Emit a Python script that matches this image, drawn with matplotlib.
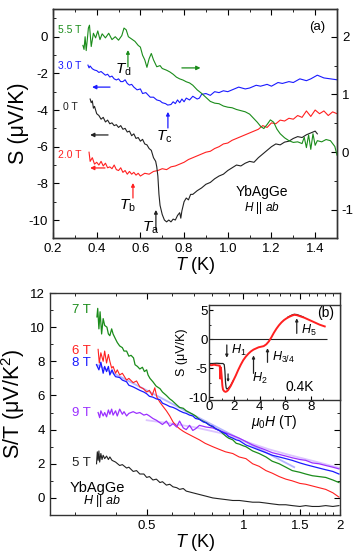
import matplotlib
matplotlib.use('Agg')
import matplotlib.pyplot as plt
from matplotlib.ticker import MultipleLocator, FixedLocator, NullFormatter

plt.rcParams['font.family'] = ['Liberation Sans', 'DejaVu Sans']
plt.rcParams['mathtext.fontset'] = 'custom'
plt.rcParams['mathtext.rm'] = 'Liberation Sans'
plt.rcParams['mathtext.it'] = 'Liberation Sans:italic'
plt.rcParams['axes.linewidth'] = 1.0
plt.rcParams['axes.edgecolor'] = '#333333'
plt.rcParams['axes.unicode_minus'] = False

GREEN = '#1a8c1a'
BLUE = '#1a1aff'
RED = '#ff2020'
BLACK = '#222222'
PURPLE = '#9b30ff'

# ---- panel (a): S vs T ----
t_55 = [0.337, 0.342, 0.347, 0.352, 0.357, 0.362, 0.367, 0.375, 0.385, 0.395, 0.405, 0.415,
        0.425, 0.44, 0.455, 0.47, 0.485, 0.50, 0.515, 0.525, 0.535, 0.545, 0.56, 0.575, 0.59,
        0.60, 0.61, 0.62, 0.63, 0.64, 0.65, 0.66, 0.675, 0.69, 0.70, 0.72, 0.735, 0.75, 0.765,
        0.78, 0.795, 0.81, 0.825, 0.84, 0.86, 0.88, 0.90, 0.92, 0.94, 0.96, 0.98, 1.00, 1.02,
        1.04, 1.06, 1.08, 1.10, 1.12, 1.135, 1.15, 1.165, 1.18, 1.195, 1.21, 1.225, 1.24, 1.26,
        1.28, 1.30, 1.32, 1.34, 1.35, 1.36, 1.37, 1.38, 1.39, 1.40, 1.41, 1.43, 1.45, 1.47,
        1.49, 1.50]
s_55 = [1.85, 1.78, 2.0, 1.76, 1.95, 2.15, 2.2, 1.83, 2.06, 1.98, 2.1, 1.95,
        2.05, 1.98, 2.06, 1.95, 2.0, 1.94, 2.02, 2.15, 2.12, 2.0, 1.96, 1.92, 1.85,
        1.82, 1.68, 1.6, 1.47, 1.62, 1.71, 1.6, 1.48, 1.5, 1.45, 1.42, 1.39, 1.35, 1.3,
        1.27, 1.25, 1.22, 1.2, 1.16, 1.08, 1.02, 0.95, 0.88, 0.85, 0.84, 0.80, 0.78, 0.77,
        0.74, 0.72, 0.70, 0.66, 0.58, 0.52, 0.45, 0.41, 0.48, 0.56, 0.52, 0.4, 0.32, 0.25,
        0.2, 0.17, 0.18, 0.15, 0.26, 0.08, 0.3, 0.05, 0.32, 0.12, 0.2, 0.18, 0.22, 0.2,
        0.1, -0.05]

t_30 = [0.36, 0.365, 0.37, 0.38, 0.39, 0.40, 0.41, 0.42, 0.43, 0.44, 0.45, 0.46, 0.47, 0.48,
        0.49, 0.50, 0.51, 0.52, 0.53, 0.54, 0.55, 0.56, 0.57, 0.585, 0.60, 0.61, 0.625, 0.645,
        0.66, 0.675, 0.69, 0.70, 0.715, 0.725, 0.74, 0.75, 0.76, 0.77, 0.78, 0.79, 0.80, 0.81,
        0.825, 0.84, 0.86, 0.87, 0.88, 0.90, 0.92, 0.94, 0.96, 0.98, 1.00, 1.02, 1.05, 1.08,
        1.10, 1.13, 1.15, 1.18, 1.20, 1.23, 1.25, 1.28, 1.30, 1.33, 1.36, 1.38, 1.41, 1.44,
        1.47, 1.50]
s_30 = [-1.55, -1.7, -1.6, -1.75, -1.82, -1.85, -1.95, -1.9, -2.0, -2.1, -2.05, -2.2, -2.15, -2.3,
        -2.36, -2.3, -2.45, -2.45, -2.35, -2.55, -2.64, -2.6, -2.75, -2.9, -2.85, -3.1, -3.05,
        -3.3, -3.3, -3.45, -3.5, -3.6, -3.65, -3.73, -3.7, -3.55, -3.65, -3.45, -3.6, -3.4,
        -3.55, -3.35, -3.45, -3.25, -3.4, -3.35, -3.15, -3.1, -3.2, -3.0, -3.05, -2.95, -3.0,
        -2.9, -2.75, -2.85, -2.8, -2.65, -2.7, -2.6, -2.7, -2.5, -2.55, -2.45, -2.5, -2.3,
        -2.4, -2.3, -2.1, -2.25, -2.3, -2.35]

t_20 = [0.365, 0.37, 0.38, 0.39, 0.40, 0.41, 0.42, 0.43, 0.44, 0.45, 0.46, 0.47, 0.48, 0.49,
        0.50, 0.51, 0.52, 0.53, 0.54, 0.55, 0.56, 0.57, 0.58, 0.59, 0.60, 0.62, 0.64, 0.66,
        0.68, 0.70, 0.72, 0.74, 0.76, 0.78, 0.80, 0.82, 0.84, 0.86, 0.88, 0.90, 0.92, 0.94,
        0.96, 0.98, 1.00, 1.02, 1.04, 1.06, 1.08, 1.10, 1.12, 1.14, 1.16, 1.18, 1.20, 1.22,
        1.24, 1.26, 1.28, 1.30, 1.32, 1.34, 1.36, 1.38, 1.40, 1.42, 1.44, 1.46, 1.48, 1.50]
s_20 = [-6.3, -6.8, -6.6, -6.95, -6.85, -7.0, -6.8, -7.05, -6.9, -7.15, -7.1, -7.2, -7.0, -7.25,
        -7.3, -7.15, -7.4, -7.3, -7.5, -7.35, -7.5, -7.4, -7.55, -7.45, -7.6, -7.45, -7.5, -7.35,
        -7.3, -7.2, -7.25, -7.1, -7.05, -6.95, -6.85, -6.7, -6.6, -6.5, -6.4, -6.3, -6.25, -6.1,
        -6.0, -5.85, -5.8, -5.65, -5.55, -5.45, -5.35, -5.25, -5.15, -5.05, -4.85, -4.95, -4.7,
        -4.75, -4.55, -4.6, -4.45, -4.5, -4.3, -4.4, -4.05, -4.35, -4.0, -4.2, -4.05, -4.3,
        -4.1, -4.2]

t_00 = [0.37, 0.375, 0.38, 0.385, 0.39, 0.40, 0.41, 0.42, 0.43, 0.44, 0.45, 0.46, 0.47, 0.48,
        0.49, 0.50, 0.51, 0.52, 0.53, 0.54, 0.55, 0.56, 0.57, 0.58, 0.59, 0.60, 0.61, 0.62,
        0.63, 0.64, 0.65, 0.66, 0.67, 0.675, 0.68, 0.685, 0.69, 0.70, 0.71, 0.72, 0.73, 0.74,
        0.75, 0.76, 0.77, 0.78, 0.785, 0.79, 0.80, 0.81, 0.82, 0.83, 0.84, 0.86, 0.88, 0.90,
        0.92, 0.94, 0.96, 0.98, 1.00, 1.02, 1.04, 1.06, 1.08, 1.10, 1.12, 1.14, 1.16, 1.18,
        1.20, 1.22, 1.24, 1.26, 1.28, 1.30, 1.32, 1.34, 1.36, 1.38, 1.40, 1.41]
s_00 = [-3.4, -3.6, -3.5, -3.9, -3.8, -4.2, -4.3, -4.5, -4.4, -4.65, -4.55, -4.75, -4.7, -4.85,
        -4.8, -4.95, -4.85, -5.05, -5.0, -5.2, -5.15, -5.4, -5.3, -5.55, -5.5, -5.7, -5.6, -5.85,
        -5.9, -6.1, -6.2, -6.6, -6.8, -7.1, -7.6, -8.6, -9.2, -9.7, -10.0, -10.1, -10.0, -10.1,
        -9.95, -10.0, -9.75, -9.6, -9.9, -9.5, -9.0, -8.8, -8.9, -8.6, -8.6, -8.4, -8.25, -8.05,
        -7.95, -7.75, -7.6, -7.5, -7.3, -7.15, -7.0, -7.05, -6.9, -6.8, -6.85, -6.6, -6.4, -6.2,
        -6.0, -5.85, -5.9, -5.75, -5.7, -5.55, -5.45, -5.5, -5.35, -5.25, -5.15, -5.3]

# ---- panel (b): S/T vs T ----
t_7 = [0.35, 0.352, 0.355, 0.358, 0.362, 0.366, 0.37, 0.376, 0.38, 0.384, 0.389, 0.393, 0.40,
       0.405, 0.412, 0.42, 0.425, 0.433, 0.44, 0.447, 0.455, 0.46, 0.468, 0.476, 0.485, 0.492,
       0.50, 0.505, 0.512, 0.523, 0.535, 0.55, 0.56, 0.576, 0.59, 0.60, 0.62, 0.633, 0.65,
       0.664, 0.68, 0.696, 0.71, 0.73, 0.766, 0.78, 0.803, 0.842, 0.86, 0.884, 0.90, 0.927,
       0.95, 0.972, 1.0, 1.019, 1.069, 1.12, 1.176, 1.23, 1.293, 1.356, 1.42, 1.5, 1.564, 1.64,
       1.72, 1.805, 1.9, 1.985]
r_7 = [10.6, 11.1, 9.9, 10.9, 9.6, 10.5, 10.1, 10.0, 9.6, 9.5, 9.9, 9.6, 9.3,
       9.1, 8.9, 8.8, 8.6, 8.6, 8.3, 8.35, 8.2, 7.8, 7.7, 7.55, 7.65, 7.4,
       7.5, 7.2, 7.0, 6.8, 6.55, 6.4, 6.2, 6.0, 5.8, 5.7, 5.45, 5.3, 5.25,
       5.1, 5.0, 4.9, 4.8, 4.6, 4.4, 4.3, 4.15, 3.95, 3.8, 3.6, 3.5, 3.4,
       3.2, 3.15, 3.05, 3.0, 2.75, 2.6, 2.4, 2.15, 2.0, 1.8, 1.6, 1.5, 1.4, 1.3,
       1.25, 1.2, 1.05, 0.9]

t_6 = [0.353, 0.356, 0.36, 0.366, 0.37, 0.375, 0.38, 0.384, 0.389, 0.393, 0.40, 0.405, 0.412,
       0.42, 0.433, 0.44, 0.454, 0.465, 0.476, 0.488, 0.50, 0.51, 0.52, 0.53, 0.538, 0.55,
       0.56, 0.576, 0.59, 0.604, 0.62, 0.633, 0.65, 0.664, 0.68, 0.696, 0.73, 0.76, 0.803,
       0.84, 0.88, 0.927, 0.97, 1.019, 1.069, 1.12, 1.176, 1.23, 1.293, 1.356, 1.42, 1.5,
       1.564, 1.64, 1.72, 1.805, 1.9, 1.985]
r_6 = [8.7, 7.9, 8.5, 8.0, 8.6, 7.9, 8.4, 8.0, 7.6, 7.7, 7.3, 7.5, 7.2,
       7.3, 6.9, 7.0, 6.75, 6.85, 6.5, 6.4, 6.2, 6.3, 6.0, 6.45, 5.9, 5.6,
       5.4, 5.1, 4.8, 4.45, 4.2, 4.05, 3.9, 3.8, 3.7, 3.6, 3.4, 3.2, 3.0,
       2.85, 2.7, 2.6, 2.4, 2.3, 2.0, 1.85, 1.6, 1.45, 1.25, 1.1, 1.0, 0.85,
       0.8, 0.7, 0.6, 0.5, 0.3, 0.05]

t_8 = [0.349, 0.355, 0.36, 0.366, 0.37, 0.375, 0.38, 0.384, 0.39, 0.395, 0.40, 0.412, 0.42,
       0.433, 0.44, 0.454, 0.465, 0.476, 0.49, 0.50, 0.51, 0.523, 0.536, 0.55, 0.56, 0.576,
       0.59, 0.604, 0.62, 0.633, 0.65, 0.664, 0.68, 0.696, 0.71, 0.73, 0.75, 0.766, 0.785,
       0.803, 0.82, 0.842, 0.86, 0.884, 0.90, 0.927, 0.95, 0.972, 1.0, 1.019, 1.069, 1.12,
       1.176, 1.23, 1.293, 1.356, 1.42, 1.5, 1.564, 1.64, 1.72, 1.805, 1.9, 1.985]
r_8 = [7.8, 7.5, 7.95, 7.3, 7.7, 7.4, 7.7, 7.2, 7.5, 7.25, 7.1, 7.05, 6.9,
       6.8, 6.6, 6.5, 6.4, 6.3, 6.2, 6.1, 5.95, 5.9, 5.8, 5.75, 5.55, 5.45,
       5.35, 5.3, 5.2, 5.1, 5.0, 4.95, 4.85, 4.8, 4.65, 4.6, 4.45, 4.4, 4.25,
       4.2, 4.05, 3.95, 3.85, 3.75, 3.6, 3.5, 3.4, 3.35, 3.2, 3.1, 2.95, 2.8,
       2.65, 2.5, 2.4, 2.3, 2.2, 2.05, 1.95, 1.85, 1.75, 1.65, 1.55, 1.4]

t_8fit = [0.35, 0.5, 0.7, 1.0, 1.44]
r_8fit = [7.8, 6.3, 4.85, 3.35, 1.8]

t_9 = [0.353, 0.357, 0.36, 0.366, 0.37, 0.375, 0.38, 0.384, 0.389, 0.393, 0.40, 0.405, 0.412,
       0.42, 0.425, 0.433, 0.44, 0.454, 0.465, 0.476, 0.49, 0.50, 0.51, 0.523, 0.536, 0.55,
       0.56, 0.576, 0.59, 0.604, 0.62, 0.633, 0.65, 0.664, 0.68, 0.696, 0.71, 0.73, 0.766,
       0.803, 0.842, 0.884, 0.927, 0.97, 1.019, 1.069, 1.12, 1.176, 1.23, 1.293, 1.356, 1.42,
       1.5, 1.564, 1.64, 1.72, 1.805, 1.9, 1.985]
r_9 = [5.0, 4.7, 5.1, 4.8, 5.0, 4.75, 5.15, 4.9, 5.2, 4.85, 5.1, 4.8, 5.2,
       4.9, 5.05, 4.8, 4.95, 5.05, 4.95, 5.0, 4.85, 4.9, 4.8, 4.65, 4.55, 4.4,
       4.3, 4.5, 4.2, 4.35, 4.15, 4.5, 4.1, 4.0, 4.25, 3.95, 4.05, 4.25, 4.15,
       4.1, 3.95, 3.8, 3.65, 3.5, 3.3, 3.1, 2.95, 2.8, 2.65, 2.55, 2.45, 2.35,
       2.25, 2.2, 2.05, 2.0, 1.9, 1.8, 1.7]

t_9fit = [0.5, 0.6, 0.7, 0.85, 1.0, 1.2, 1.4, 1.7, 2.0]
r_9fit = [4.55, 4.35, 4.15, 3.8, 3.35, 2.85, 2.5, 2.1, 1.75]

t_5 = [0.349, 0.351, 0.353, 0.355, 0.357, 0.36, 0.363, 0.366, 0.37, 0.375, 0.38, 0.384, 0.39,
       0.40, 0.412, 0.42, 0.433, 0.44, 0.454, 0.465, 0.476, 0.49, 0.50, 0.51, 0.523, 0.536,
       0.55, 0.56, 0.576, 0.59, 0.604, 0.62, 0.633, 0.65, 0.664, 0.68, 0.696, 0.73, 0.766,
       0.803, 0.842, 0.884, 0.927, 0.972, 1.019, 1.069, 1.12, 1.176, 1.23, 1.293, 1.356, 1.42,
       1.5, 1.564, 1.64, 1.72, 1.805, 1.9, 1.985]
r_5 = [2.0, 2.7, 2.2, 2.75, 2.1, 2.6, 2.25, 2.5, 2.3, 2.45, 2.25, 2.4, 2.2,
       2.1, 1.9, 1.95, 1.75, 1.8, 1.55, 1.6, 1.4, 1.4, 1.2, 1.25, 1.05, 1.1,
       0.9, 0.95, 0.75, 0.8, 0.65, 0.6, 0.5, 0.55, 0.4, 0.35, 0.3, 0.2, 0.1,
       0.0, -0.05, -0.1, -0.15, -0.15, -0.2, -0.25, -0.25, -0.3, -0.35, -0.4, -0.4, -0.45,
       -0.5, -0.45, -0.5, -0.5, -0.45, -0.5, -0.45]

# ---- inset: S vs mu0 H at 0.4 K ----
h_up = [0.0, 0.2, 0.4, 0.6, 0.8, 0.85, 0.88, 0.9, 0.95, 1.0, 1.05, 1.1, 1.2, 1.3, 1.4, 1.5, 1.7,
        1.9, 2.1, 2.3, 2.5, 2.7, 2.9, 3.1, 3.3, 3.5, 3.7, 3.9, 4.1, 4.3, 4.5, 4.7, 4.9, 5.1,
        5.3, 5.5, 5.7, 5.9, 6.1, 6.3, 6.5, 6.7, 6.9, 7.1, 7.3, 7.5, 7.7, 7.9, 8.1, 8.3, 8.5,
        8.7, 8.9, 9.1]
s_up = [-4.4, -4.5, -4.4, -4.5, -4.55, -4.6, -6.8, -4.8, -5.2, -6.5, -8.0, -8.7, -9.0, -9.1,
        -9.0, -8.8, -8.1, -7.2, -6.3, -5.3, -4.4, -3.6, -3.0, -2.5, -2.1, -1.8, -1.6, -1.4,
        -1.3, -1.2, -0.9, -0.4, 0.3, 1.1, 1.8, 2.4, 2.9, 3.3, 3.6, 3.85, 4.05, 4.2, 4.15,
        4.0, 3.85, 3.7, 3.5, 3.3, 3.1, 2.9, 2.7, 2.5, 2.35, 2.2]
h_down = [0.0, 0.3, 0.6, 0.9, 1.1, 1.2, 1.25, 1.3, 1.35, 1.4, 1.5, 1.7, 1.9]
s_down = [-4.2, -4.2, -4.15, -4.2, -4.2, -4.4, -5.5, -7.5, -8.4, -8.6, -8.5, -8.0, -7.2]
h_peak = [6.2, 6.5, 6.7, 6.9, 7.1, 7.4]
s_peak = [3.8, 4.15, 4.3, 4.25, 4.1, 3.85]

W, H = 361, 553
fig = plt.figure(figsize=(W / 100, H / 100), dpi=100)

def px_axes(x0, y0, x1, y1):
    return fig.add_axes([x0 / W, 1 - y1 / H, (x1 - x0) / W, (y1 - y0) / H])

def arrow(ax, x0, y0, x1, y1, color, ms=6):
    ax.annotate('', xy=(x1, y1), xytext=(x0, y0),
                arrowprops=dict(arrowstyle='-|>', color=color, lw=0.9,
                                mutation_scale=ms, shrinkA=0, shrinkB=0))

# ===== panel (a) =====
ax1 = px_axes(53, 9, 337, 238)
axr = ax1.twinx()
ax1.plot(t_30, s_30, color=BLUE, lw=0.8)
ax1.plot(t_20, s_20, color=RED, lw=0.8)
ax1.plot(t_00, s_00, color=BLACK, lw=0.8)
axr.plot(t_55, s_55, color=GREEN, lw=0.8)

ax1.set_xlim(0.2, 1.5)
ax1.set_ylim(-10.98, 1.51)
axr.set_ylim(-1.485, 2.48)
ax1.xaxis.set_major_locator(MultipleLocator(0.2))
ax1.xaxis.set_minor_locator(MultipleLocator(0.1))
ax1.yaxis.set_major_locator(MultipleLocator(2))
ax1.yaxis.set_minor_locator(MultipleLocator(1))
axr.yaxis.set_major_locator(MultipleLocator(1))
axr.yaxis.set_minor_locator(MultipleLocator(0.5))
ax1.xaxis.set_major_formatter(plt.FuncFormatter(lambda v, p: f'{v:.1f}'))
ax1.tick_params(axis='both', which='both', direction='in', labelsize=9.5, top=True, right=False)
ax1.tick_params(which='major', length=4)
ax1.tick_params(which='minor', length=2)
axr.tick_params(axis='y', which='both', direction='in', labelsize=9.5)
axr.tick_params(which='major', length=4)
axr.tick_params(which='minor', length=2)
ax1.set_xlabel(r'$T$ (K)', fontsize=13, labelpad=0)
ax1.set_ylabel('S (\u03bcV/K)', fontsize=15.5, labelpad=0)

ax1.text(0.223, 0.37, '5.5 T', color=GREEN, fontsize=7.5, va='center')
ax1.text(0.223, -1.6, '3.0 T', color=BLUE, fontsize=7.5, va='center')
ax1.text(0.246, -3.85, '0 T', color=BLACK, fontsize=7.5, va='center')
ax1.text(0.223, -6.45, '2.0 T', color=RED, fontsize=7.5, va='center')

arrow(axr, 0.79, 1.46, 0.875, 1.46, GREEN)
arrow(ax1, 0.461, -2.75, 0.379, -2.75, BLUE)
arrow(ax1, 0.452, -5.36, 0.37, -5.36, BLACK)
arrow(ax1, 0.438, -7.16, 0.37, -7.16, RED)

arrow(ax1, 0.543, -1.65, 0.543, -0.73, GREEN, 5)
arrow(ax1, 0.726, -4.98, 0.726, -4.1, BLUE, 5)
arrow(ax1, 0.566, -8.8, 0.566, -7.98, RED, 5)
arrow(ax1, 0.671, -10.55, 0.671, -9.45, BLACK, 5)
ax1.text(0.523, -1.82, r'$T_\mathrm{d}$', fontsize=11, ha='center', va='center')
ax1.text(0.708, -5.47, r'$T_\mathrm{c}$', fontsize=11, ha='center', va='center')
ax1.text(0.539, -9.25, r'$T_\mathrm{b}$', fontsize=11, ha='center', va='center')
ax1.text(0.649, -10.4, r'$T_\mathrm{a}$', fontsize=11, ha='center', va='center')

ax1.text(1.408, 0.53, '(a)', fontsize=9.5, ha='center', va='center')
ax1.text(1.157, -8.46, 'YbAgGe', fontsize=10, ha='center', va='center')
ax1.text(1.157, -9.35, r'$H$ || $ab$', fontsize=8.5, ha='center', va='center')

# ===== panel (b) =====
ax2 = px_axes(50, 293, 340, 515)
ax2.set_xscale('log')
ax2.plot(t_8fit, r_8fit, color='#b4b4ff', lw=1.3)
ax2.plot(t_9fit, r_9fit, color='#dcc4ff', lw=1.3)
ax2.plot(t_5, r_5, color=BLACK, lw=0.8)
ax2.plot(t_6, r_6, color=RED, lw=0.8)
ax2.plot(t_7, r_7, color=GREEN, lw=0.9)
ax2.plot(t_9, r_9, color=PURPLE, lw=0.9)
ax2.plot(t_8, r_8, color=BLUE, lw=0.9)

ax2.set_xlim(0.25, 2.0)
ax2.set_ylim(-1, 12)
ax2.xaxis.set_major_locator(FixedLocator([0.5, 1.0, 1.5, 2.0]))
ax2.xaxis.set_minor_locator(FixedLocator([0.3, 0.4, 0.6, 0.7, 0.8, 0.9, 1.1, 1.2, 1.3, 1.4,
                                          1.6, 1.7, 1.8, 1.9]))
ax2.xaxis.set_major_formatter(plt.FuncFormatter(lambda v, p: f'{v:g}'))
ax2.xaxis.set_minor_formatter(NullFormatter())
ax2.yaxis.set_major_locator(MultipleLocator(2))
ax2.yaxis.set_minor_locator(MultipleLocator(1))
ax2.tick_params(axis='both', which='both', direction='in', labelsize=9.5, top=True, right=True)
ax2.tick_params(which='major', length=4)
ax2.tick_params(which='minor', length=2)
ax2.set_xlabel(r'$T$ (K)', fontsize=13, labelpad=0)
ax2.set_ylabel('S/T (\u03bcV/K$^2$)', fontsize=15.5, labelpad=2)

ax2.text(0.293, 10.98, '7 T', color=GREEN, fontsize=9.5, va='center')
ax2.text(0.293, 8.58, '6 T', color=RED, fontsize=9.5, va='center')
ax2.text(0.293, 7.93, '8 T', color=BLUE, fontsize=9.5, va='center')
ax2.text(0.293, 4.97, '9 T', color=PURPLE, fontsize=9.5, va='center')
ax2.text(0.293, 2.07, '5 T', color=BLACK, fontsize=9.5, va='center')
ax2.text(0.35, 0.6, 'YbAgGe', fontsize=10.5, ha='center', va='center')
ax2.text(0.363, -0.2, r'$H$ || $ab$', fontsize=9, ha='center', va='center')

# ===== inset =====
axi = px_axes(209, 305, 340, 400)
axi.hlines(0, 0, 9.25, color=BLACK, lw=0.8)
axi.plot(h_down, s_down, color=BLACK, lw=0.9)
axi.plot(h_peak, s_peak, color=BLACK, lw=0.9)
axi.plot(h_up, s_up, color=RED, lw=1.4)
axi.set_xlim(0, 10.3)
axi.set_ylim(-10.5, 5.9)
axi.xaxis.set_major_locator(FixedLocator([0, 2, 4, 6, 8]))
axi.xaxis.set_minor_locator(FixedLocator([1, 3, 5, 7, 9]))
axi.yaxis.set_major_locator(MultipleLocator(5))
axi.yaxis.set_minor_locator(MultipleLocator(2.5))
axi.tick_params(axis='both', which='both', direction='in', labelsize=9.5, pad=1)
axi.tick_params(which='major', length=3)
axi.tick_params(which='minor', length=1.5)
axi.set_xlabel(r'$\mu_\mathrm{0}H$ (T)', fontsize=10, labelpad=0)
axi.set_ylabel('S (\u03bcV/K)', fontsize=9, labelpad=0)

arrow(axi, 1.4, -1.0, 1.4, -3.2, BLACK, 4)
arrow(axi, 1.5, -6.0, 1.5, -7.4, BLACK, 3)
arrow(axi, 3.5, -5.9, 3.5, -2.8, BLACK, 4)
arrow(axi, 4.6, -4.0, 4.6, -1.55, BLACK, 4)
arrow(axi, 6.9, 1.0, 6.9, 3.6, BLACK, 4)
axi.text(1.75, -1.9, r'$H_\mathrm{1}$', fontsize=9, va='center')
axi.text(3.35, -6.7, r'$H_\mathrm{2}$', fontsize=9, va='center')
axi.text(4.95, -3.1, r'$H_\mathrm{3/4}$', fontsize=9, va='center')
axi.text(7.25, 1.55, r'$H_\mathrm{5}$', fontsize=9, va='center')
axi.text(7.1, -8.3, '0.4K', fontsize=10, ha='center', va='center')
axi.text(9.2, 4.5, '(b)', fontsize=10, ha='center', va='center')

fig.savefig('out.png', dpi=100)
